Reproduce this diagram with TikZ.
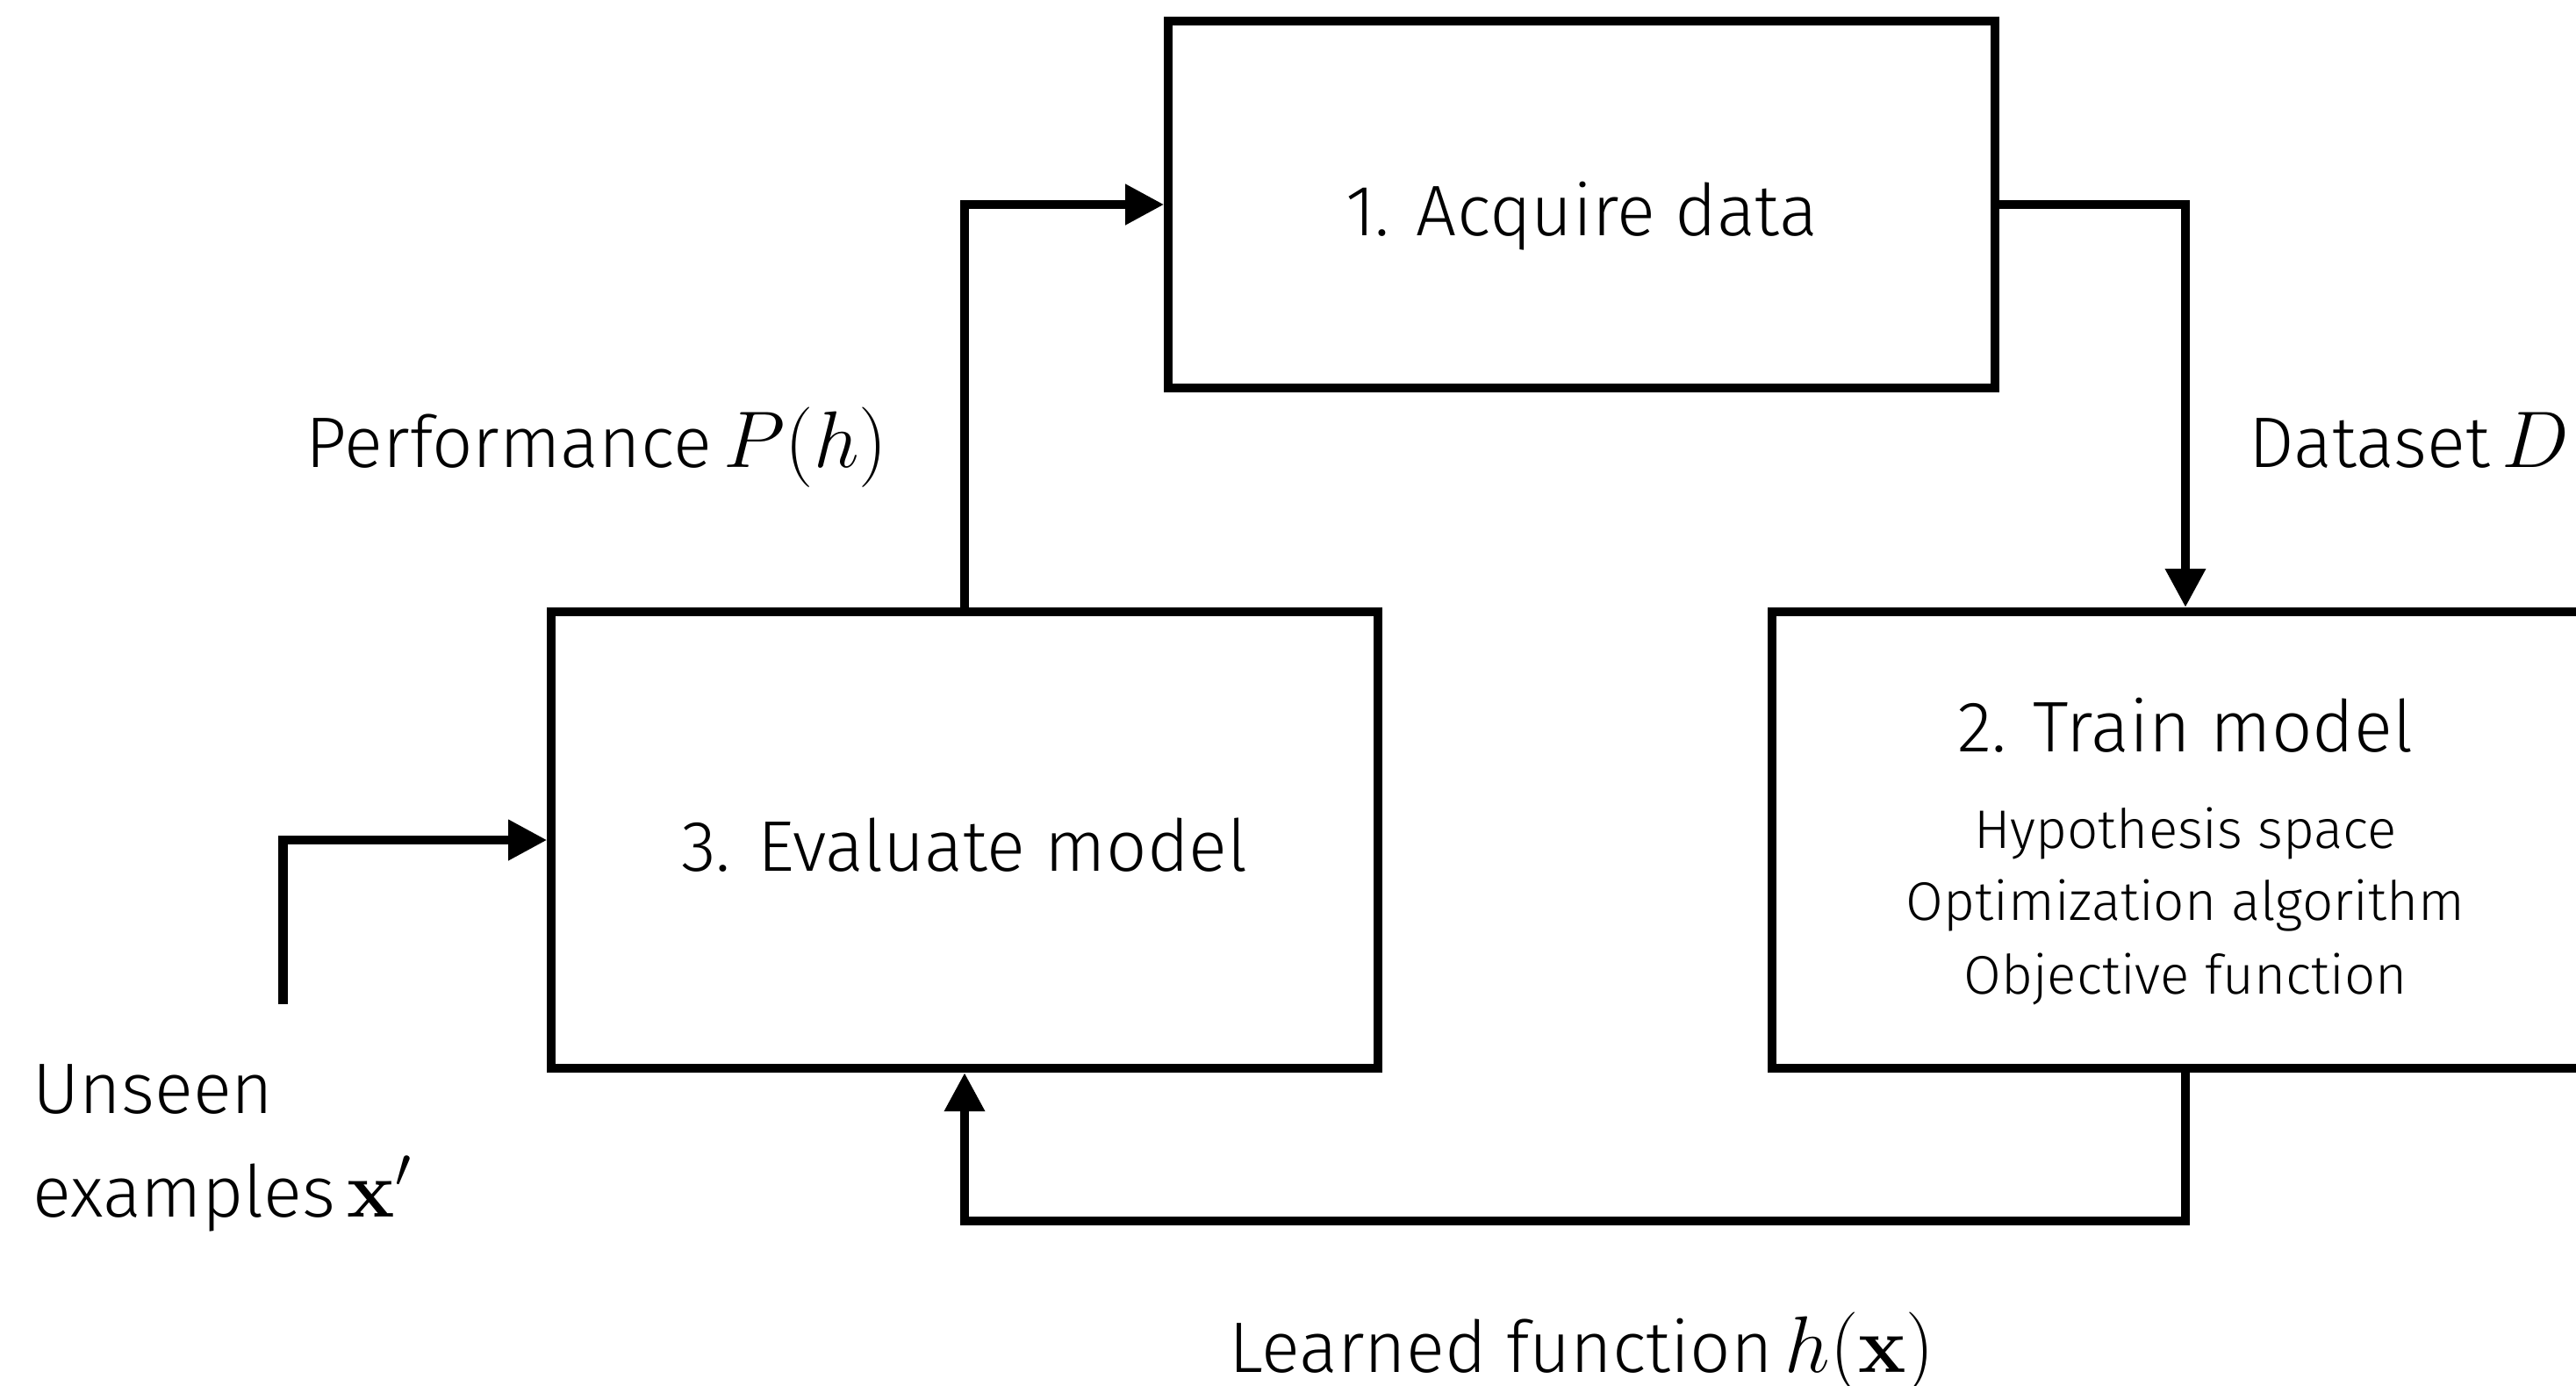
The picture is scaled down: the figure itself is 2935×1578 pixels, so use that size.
\IfFileExists{fix-cm.sty}{\RequirePackage{fix-cm}}{}
\documentclass[tikz,border=0pt]{standalone}
\usepackage[no-math]{fontspec}
\IfFontExistsTF{Fira Sans Light}{\setmainfont{Fira Sans Light}}{\setmainfont{Fira Sans}}
\usetikzlibrary{arrows.meta}
\newcommand{\bigmath}[1]{{\fontsize{26}{30}\selectfont$#1$}}
\begin{document}
\begin{tikzpicture}[x=0.01cm,y=-0.01cm,
  box/.style={draw=black, line width=0.1cm, outer sep=0.05cm, inner sep=0pt, minimum width=9.41cm},
  conn/.style={draw=black, line width=0.1cm, -{Triangle[length=0.44cm,width=0.44cm]}},
  title/.style={font=\fontsize{23.2}{28}\selectfont, inner sep=0pt, anchor=base},
  small/.style={font=\fontsize{17.6}{21}\selectfont, inner sep=0pt, anchor=base},
  lab/.style={font=\fontsize{23.2}{28}\selectfont, inner sep=0pt, anchor=base west}]
\useasboundingbox (0,0) rectangle (2935,1578);
% boxes
\node[box, minimum height=4.18cm] (b1) at (1802,233) {};
\node[box, minimum height=5.2cm] (b2) at (2490,957) {};
\node[box, minimum height=5.2cm] (b3) at (1099,957) {};
% box texts
\node[title] (t1) at (1802,268) {1. Acquire data};
\node[title] (t2) at (2490,856) {2. Train model};
\node[small] (s1) at (2490,966) {Hypothesis space};
\node[small] (s2) at (2490,1048) {Optimization algorithm};
\node[small] (s3) at (2490,1132) {Objective function};
\node[title] (t3) at (1099,992) {3. Evaluate model};
% labels
\node[lab] (lp) at (348,532) {Performance\,\bigmath{P(h)}};
\node[lab] (ld) at (2562,532) {Dataset\,\bigmath{D}};
\node[lab] (lu1) at (37,1268) {Unseen};
\node[lab] (lu2) at (37,1386) {examples\,\bigmath{\mathbf{x}'}};
\node[lab] (ll) at (1400,1563) {Learned function\,\bigmath{h(\mathbf{x})}};
% connectors
\draw[conn] (b1.east) -| (b2.north);
\draw[conn] (b2.south) -- ++(0,169) -| (b3.south);
\draw[conn] (b3.north) |- (b1.west);
\coordinate (in) at (322.5,1144);
\draw[conn] (in) |- (b3.west);
\end{tikzpicture}
\end{document}
